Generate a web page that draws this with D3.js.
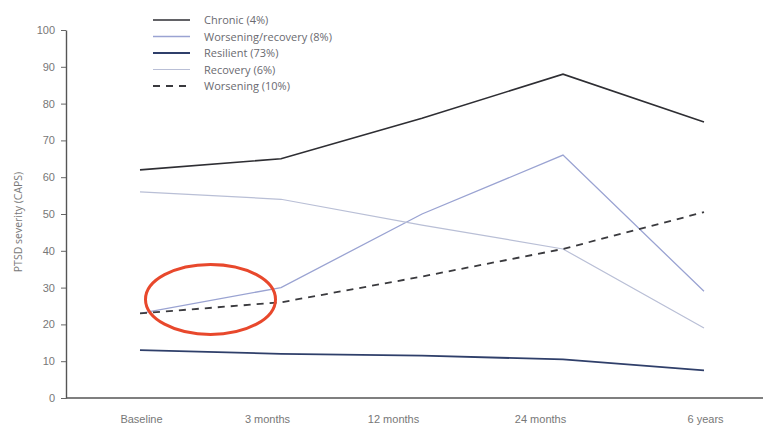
<!DOCTYPE html>
<html>
<head>
<meta charset="utf-8">
<script src="https://cdn.jsdelivr.net/npm/d3@7"></script>
<style>
  html, body { margin: 0; padding: 0; background: #fff; }
  svg { display: block; font-family: "Open Sans", sans-serif; }
</style>
</head>
<body>
<div id="chart"></div>
<script>
// Time points along the x axis
const TIMEPOINTS = ['Baseline', '3 months', '12 months', '24 months', '6 years'];
const Y_TICKS = [0, 10, 20, 30, 40, 50, 60, 70, 80, 90, 100];

// Trajectory classes (CAPS severity at each time point)
const CHRONIC = [62, 65, 76, 88, 75];
const WORSENING_RECOVERY = [23, 30, 50, 66, 29];
const RESILIENT = [13, 12, 11.5, 10.5, 7.5];
const RECOVERY = [56, 54, 47, 40.5, 19];
const WORSENING = [23, 26, 33, 40.5, 50.5];

const SERIES_NAMES = ['Chronic (4%)', 'Worsening/recovery (8%)', 'Resilient (73%)', 'Recovery (6%)', 'Worsening (10%)'];
const SERIES_VALUES = [CHRONIC, WORSENING_RECOVERY, RESILIENT, RECOVERY, WORSENING];

const STYLES = [
  { color: '#2e2e33', width: 1.6, dash: null },
  { color: '#9aa3d2', width: 1.3, dash: null },
  { color: '#2f3f6a', width: 1.8, dash: null },
  { color: '#b9bfd6', width: 1.2, dash: null },
  { color: '#3a3a3e', width: 1.8, dash: '7 6' },
];
// small nudges so tick labels sit where the printed figure put them
const LABEL_DX = [1, -14, -29, -23, 1];

const W = 763, H = 426;
const AXIS_X = 66, AXIS_BOTTOM = 398, AXIS_TOP = 30;

const svg = d3.select('#chart').append('svg')
  .attr('width', W)
  .attr('height', H);

const x = d3.scalePoint().domain(TIMEPOINTS).range([140, 704]);
const y = d3.scaleLinear().domain([0, 100]).range([AXIS_BOTTOM, AXIS_TOP]);

// y axis
const yAxis = svg.append('g')
  .attr('transform', `translate(${AXIS_X},0)`)
  .call(d3.axisLeft(y).tickValues(Y_TICKS).tickSize(5).tickSizeOuter(0).tickPadding(6));
yAxis.select('.domain').attr('stroke', '#555').attr('stroke-width', 1.4);
yAxis.selectAll('.tick line').attr('stroke', '#666');
yAxis.selectAll('.tick text')
  .attr('fill', '#777')
  .attr('font-size', '11px');

// x axis
const xAxis = svg.append('g')
  .attr('transform', `translate(0,${AXIS_BOTTOM})`)
  .call(d3.axisBottom(x).tickSize(0).tickPadding(17));
xAxis.select('.domain').remove();
xAxis.selectAll('.tick text')
  .attr('fill', '#777')
  .attr('font-size', '11px')
  .attr('dx', (d, i) => LABEL_DX[i]);
svg.append('line')
  .attr('x1', AXIS_X).attr('x2', W)
  .attr('y1', AXIS_BOTTOM).attr('y2', AXIS_BOTTOM)
  .attr('stroke', '#555')
  .attr('stroke-width', 1.6);

svg.append('text')
  .attr('transform', `translate(22,${(AXIS_TOP + AXIS_BOTTOM) / 2 + 8}) rotate(-90)`)
  .attr('text-anchor', 'middle')
  .attr('font-size', '10.5px')
  .attr('fill', '#777')
  .text('PTSD severity (CAPS)');

// lines
const line = d3.line()
  .x((d, i) => x(TIMEPOINTS[i]))
  .y(d => y(d));

SERIES_VALUES.forEach((vals, i) => {
  svg.append('path')
    .datum(vals)
    .attr('fill', 'none')
    .attr('stroke', STYLES[i].color)
    .attr('stroke-width', STYLES[i].width)
    .attr('stroke-dasharray', STYLES[i].dash)
    .attr('d', line);
});

// red hand-drawn highlight around the early worsening/recovery split
const cx = (x(TIMEPOINTS[0]) + x(TIMEPOINTS[1])) / 2;
svg.append('ellipse')
  .attr('cx', cx)
  .attr('cy', y(26.8))
  .attr('rx', 65)
  .attr('ry', 35)
  .attr('fill', 'none')
  .attr('stroke', '#e8482c')
  .attr('stroke-width', 3);

// legend
const legend = svg.append('g').attr('transform', 'translate(153,20)');
SERIES_NAMES.forEach((name, i) => {
  const row = legend.append('g').attr('transform', `translate(0,${i * 16.5})`);
  row.append('line')
    .attr('x1', 0).attr('x2', 37)
    .attr('stroke', STYLES[i].color)
    .attr('stroke-width', STYLES[i].width)
    .attr('stroke-dasharray', STYLES[i].dash);
  row.append('text')
    .attr('x', 51)
    .attr('y', 4)
    .attr('font-size', '11px')
    .attr('fill', '#6a6a70')
    .text(name);
});
</script>
</body>
</html>
